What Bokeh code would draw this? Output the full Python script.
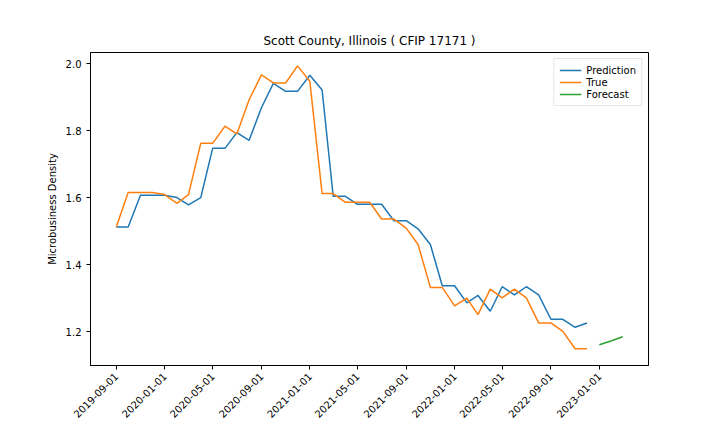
from datetime import datetime
import pandas as pd
from bokeh.plotting import figure
from bokeh.models import FixedTicker, DatetimeTickFormatter, Range1d, Legend, LegendItem, NumeralTickFormatter
from bokeh.embed import file_html
from bokeh.resources import INLINE

dates = pd.date_range("2019-09-01", "2022-12-01", freq="MS")
prediction = [1.513, 1.513, 1.608, 1.608, 1.608, 1.601, 1.579, 1.601, 1.748, 1.748,
              1.795, 1.772, 1.869, 1.942, 1.918, 1.918, 1.966, 1.922, 1.605, 1.605,
              1.581, 1.581, 1.581, 1.532, 1.532, 1.508, 1.461, 1.338, 1.338, 1.287,
              1.309, 1.262, 1.335, 1.311, 1.335, 1.311, 1.238, 1.238, 1.214, 1.227]
true_vals = [1.513, 1.616, 1.616, 1.616, 1.610, 1.584, 1.610, 1.763, 1.763, 1.814,
             1.791, 1.893, 1.967, 1.943, 1.943, 1.994, 1.948, 1.613, 1.613, 1.587,
             1.587, 1.587, 1.537, 1.537, 1.510, 1.461, 1.333, 1.333, 1.278, 1.301,
             1.252, 1.328, 1.302, 1.328, 1.302, 1.227, 1.227, 1.202, 1.150, 1.150]
fc_dates = pd.date_range("2023-01-01", "2023-03-01", freq="MS")
forecast = [1.162, 1.174, 1.186]
tick_dates = pd.date_range("2019-09-01", "2023-01-01", freq="4MS")

p = figure(width=712, height=424, x_axis_type="datetime", output_backend="svg",
           toolbar_location=None, title="Scott County, Illinois ( CFIP 17171 )",
           min_border_left=90, min_border_right=64, min_border_top=52, min_border_bottom=44)
p.title.align = "center"
p.title.text_font = "DejaVu Sans"
p.title.text_font_style = "normal"
p.title.text_font_size = "12px"
p.title.text_color = "black"

l1 = p.line(dates, prediction, color="#1f77b4", line_width=1.5)
l2 = p.line(dates, true_vals, color="#ff7f0e", line_width=1.5)
l3 = p.line(fc_dates, forecast, color="#2ca02c", line_width=1.5)

p.x_range = Range1d(datetime(2019, 6, 28), datetime(2023, 5, 5))
p.y_range = Range1d(1.100, 2.034)

p.xaxis.ticker = FixedTicker(ticks=[d.timestamp() * 1000 for d in tick_dates])
p.xaxis.formatter = DatetimeTickFormatter(months="%Y-%m-%d", days="%Y-%m-%d", years="%Y-%m-%d")
p.xaxis.major_label_orientation = 0.785
p.yaxis.ticker = FixedTicker(ticks=[1.2, 1.4, 1.6, 1.8, 2.0])
p.yaxis.formatter = NumeralTickFormatter(format="0.0")
p.yaxis.axis_label = "Microbusiness Density"
p.yaxis.axis_label_text_font_style = "normal"
p.yaxis.axis_label_text_font_size = "10px"
p.yaxis.axis_label_text_color = "black"
for ax in (p.xaxis, p.yaxis):
    ax.major_label_text_font = "DejaVu Sans"
    ax.major_label_text_font_size = "10px"
    ax.major_label_text_color = "black"
    ax.minor_tick_line_color = None
    ax.axis_line_color = "black"
    ax.major_tick_line_color = "black"
    ax.major_tick_in = 0
    ax.major_tick_out = 4
p.yaxis.axis_label_text_font = "DejaVu Sans"
p.grid.grid_line_color = None
p.outline_line_color = "black"

legend = Legend(items=[LegendItem(label="Prediction", renderers=[l1]),
                       LegendItem(label="True", renderers=[l2]),
                       LegendItem(label="Forecast", renderers=[l3])],
                location="top_right", label_text_font="DejaVu Sans",
                label_text_font_size="10px", label_text_color="black",
                glyph_width=22, glyph_height=10,
                spacing=0, padding=5, label_height=12, border_line_color="#cccccc",
                margin=6)
p.add_layout(legend)

open("out.html", "w").write(file_html(p, INLINE))
